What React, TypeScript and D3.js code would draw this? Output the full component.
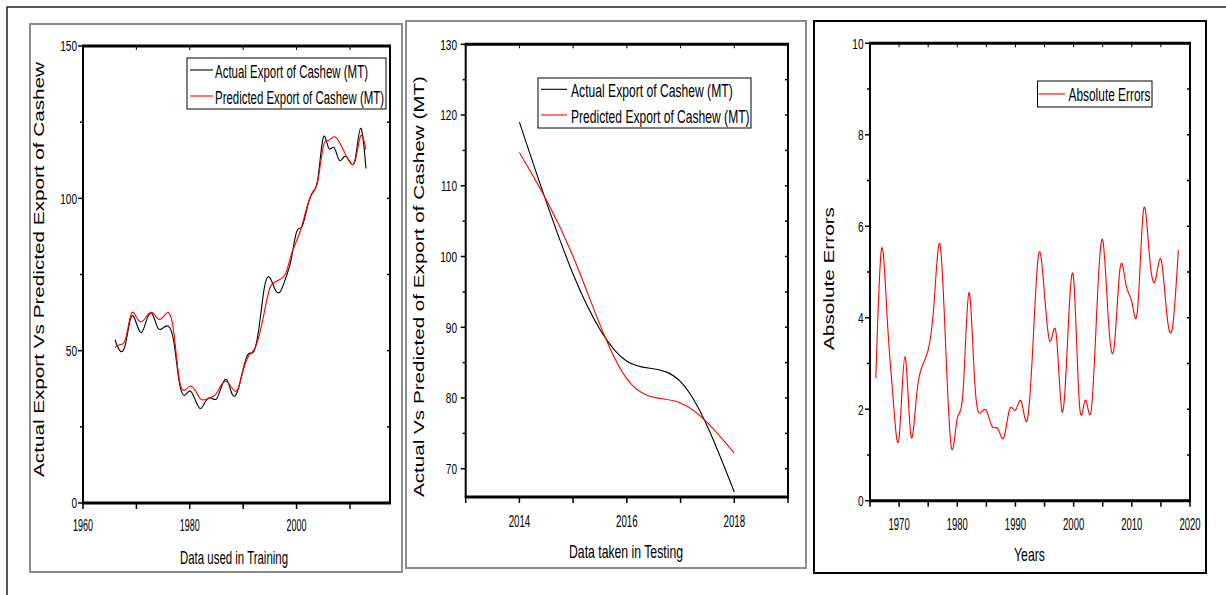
import * as d3 from "d3";

// ---- data ----
const trainYears = d3.range(1966, 2014);
const trainActual = [
  53.5, 49.8, 52.5, 61, 59, 56, 60.5, 62, 57.5, 57.5,
  58, 53, 40, 35.3, 36.8, 34, 31, 33.5, 34.5, 34.2,
  38.5, 40.3, 35.5, 37, 44, 49, 49.7, 58, 71, 74,
  70, 69.5, 74, 80, 89, 90.7, 97, 102, 106.5, 120,
  116.5, 116.7, 112.5, 113.8, 112, 113, 123, 109.8,
];
const trainPredicted = [
  51, 52, 54, 62, 61, 59.5, 61.5, 62.5, 60.5, 61,
  62.5, 56, 41, 37, 38.3, 37, 34.2, 34, 34.6, 36,
  39, 39.8, 37.5, 37.3, 43.5, 48.2, 50.2, 55, 63, 70.5,
  72.5, 73.5, 75.5, 81.5, 86, 91, 97.5, 101.8, 105.8, 117,
  119, 120.2, 118.5, 115, 111.8, 112.5, 120.5, 116,
];

const testYears = [2014, 2015, 2016, 2017, 2018];
const testActual = [119, 97.5, 85.2, 82.3, 66.7];
const testPredicted = [114.7, 100, 82.7, 79.3, 72.2];

const errorYears = d3.range(1966, 2019);
const absErrors = [
  2.68, 5.52, 3.9, 2.2, 1.38, 3.15, 1.45, 2.3, 2.95, 3.3,
  4.3, 5.62, 3.4, 1.15, 1.8, 2.4, 4.55, 2.6, 1.92, 1.97,
  1.62, 1.57, 1.38, 2.0, 1.98, 2.17, 1.75, 3.4, 5.4, 4.5,
  3.48, 3.65, 1.95, 3.6, 4.85, 2.1, 2.2, 1.95, 4.2, 5.7,
  3.9, 3.4, 5.1, 4.72, 4.35, 4.2, 6.35, 5.4, 4.8, 5.28,
  4.1, 3.8, 5.48,
];

const trainXLabels = [1960, 1980, 2000];
const trainXTicks = [1960, 1970, 1980, 1990, 2000, 2010];
const trainYLabels = [0, 50, 100, 150];
const trainYMinor = [25, 75, 125];

const testXLabels = [2014, 2016, 2018];
const testXTicks = [2013, 2014, 2015, 2016, 2017, 2018, 2019];
const testYLabels = [70, 80, 90, 100, 110, 120, 130];
const testYMinor = [75, 85, 95, 105, 115, 125];

const errXLabels = [1970, 1980, 1990, 2000, 2010, 2020];
const errXTicks = [1965, 1970, 1975, 1980, 1985, 1990, 1995, 2000, 2005, 2010, 2015, 2020];
const errYLabels = [0, 2, 4, 6, 8, 10];
const errYMinor = [1, 3, 5, 7, 9];

const FONT = "'Liberation Sans', Arial, sans-serif";

type Series = { xs: number[]; ys: number[]; color: string };
type LegendRow = { label: string; color: string; ly: number; by: number; tw: number };

function Plot(p: any) {
  const { box, xDomain, yDomain, xTicks, xLabels, yLabels, yMinor, series, legend,
    xTitle, yTitle, xLabelBase, xDigit, yRight } = p;
  const x = d3.scaleLinear().domain(xDomain).range([box.l, box.r]);
  const y = d3.scaleLinear().domain(yDomain).range([box.b, box.t]);
  const line = d3.line<[number, number]>()
    .x(d => x(d[0]))
    .y(d => y(d[1]))
    .curve(d3.curveNatural);
  const xs = xDigit / (0.556 * 16.5);
  const ys = 5.6 / (0.556 * 15);

  return (
    <g fontFamily={FONT}>
      {series.map((s: Series, i: number) => (
        <path key={i} d={line(s.xs.map((v, j) => [v, s.ys[j]] as [number, number])) || ""}
          fill="none" stroke={s.color} strokeWidth={1.1} />
      ))}

      {/* frame */}
      <line x1={box.l - 1} x2={box.r + 1} y1={box.t} y2={box.t} stroke="#000" strokeWidth={3} />
      <line x1={box.l - 1} x2={box.r + 1} y1={box.b} y2={box.b} stroke="#000" strokeWidth={3} />
      <line x1={box.l} x2={box.l} y1={box.t} y2={box.b} stroke="#000" strokeWidth={2} />
      <line x1={box.r} x2={box.r} y1={box.t} y2={box.b} stroke="#000" strokeWidth={2} />

      {/* x ticks */}
      {xTicks.map((v: number) => (
        <g key={"xt" + v}>
          <line x1={x(v)} x2={x(v)} y1={box.b} y2={box.b + 6} stroke="#000" strokeWidth={1.5} />
          <line x1={x(v)} x2={x(v)} y1={box.t} y2={box.t + 4} stroke="#000" strokeWidth={1} />
        </g>
      ))}
      {xLabels.map((v: number) => (
        <text key={"xl" + v} transform={`translate(${x(v)},${xLabelBase}) scale(${xs},1)`}
          textAnchor="middle" fontSize={16.5} fill="#000">{v}</text>
      ))}

      {/* y ticks */}
      {yLabels.map((v: number) => (
        <g key={"yt" + v}>
          <line x1={box.l - 5} x2={box.l} y1={y(v)} y2={y(v)} stroke="#000" strokeWidth={1.5} />
          <line x1={box.r - 3} x2={box.r + 1} y1={y(v)} y2={y(v)} stroke="#000" strokeWidth={1.5} />
          <text transform={`translate(${yRight},${y(v) + 5.3}) scale(${ys},1)`}
            textAnchor="end" fontSize={15} fill="#000">{v}</text>
        </g>
      ))}
      {yMinor.map((v: number) => (
        <g key={"ym" + v}>
          <line x1={box.l - 3} x2={box.l} y1={y(v)} y2={y(v)} stroke="#000" strokeWidth={1.5} />
          <line x1={box.r - 3} x2={box.r + 1} y1={y(v)} y2={y(v)} stroke="#000" strokeWidth={1.5} />
        </g>
      ))}

      {/* legend */}
      <rect x={legend.x} y={legend.y} width={legend.w} height={legend.h}
        fill="#fff" stroke="#000" strokeWidth={1} />
      {legend.rows.map((r: LegendRow) => (
        <g key={r.label}>
          <line x1={legend.lx0} x2={legend.lx1} y1={r.ly} y2={r.ly} stroke={r.color} strokeWidth={1.1} />
          <text x={legend.tx} y={r.by} fontSize={18} textLength={r.tw}
            lengthAdjust="spacingAndGlyphs" fill="#000">{r.label}</text>
        </g>
      ))}

      {/* titles */}
      <text x={xTitle.x} y={xTitle.y} fontSize={18.5} textLength={xTitle.w}
        lengthAdjust="spacingAndGlyphs" fill="#000">{xTitle.text}</text>
      <text transform={`translate(${yTitle.x},${yTitle.c + yTitle.len / 2}) rotate(-90)`}
        fontSize={15} textLength={yTitle.len} lengthAdjust="spacingAndGlyphs" fill="#000">{yTitle.text}</text>
    </g>
  );
}

export default function App() {
  return (
    <svg width={1226} height={595} style={{ position: "absolute", left: 0, top: 0, background: "#fff" }}>
      <rect x={0} y={0} width={1226} height={595} fill="#fff" />
      <rect x={7} y={7} width={1240} height={620} fill="none" stroke="#222" strokeWidth={1.5} />

      <rect x={30} y={24} width={372} height={548} fill="none" stroke="#8c8c8c" strokeWidth={2} />
      <rect x={406} y={21} width={400} height={547} fill="none" stroke="#8c8c8c" strokeWidth={2} />
      <rect x={814} y={21} width={392} height={552} fill="none" stroke="#000" strokeWidth={2} />

      <Plot
        box={{ l: 83, r: 390, t: 46, b: 503 }}
        xDomain={[1960, 2017.5]} yDomain={[0, 150]}
        xTicks={trainXTicks} xLabels={trainXLabels}
        yLabels={trainYLabels} yMinor={trainYMinor}
        xLabelBase={531} xDigit={5.0} yRight={77}
        series={[
          { xs: trainYears, ys: trainActual, color: "#000" },
          { xs: trainYears, ys: trainPredicted, color: "#ff0000" },
        ]}
        legend={{
          x: 187, y: 58, w: 199, h: 51, lx0: 190, lx1: 213, tx: 215,
          rows: [
            { label: "Actual Export of Cashew (MT)", color: "#000", ly: 70, by: 78, tw: 153 },
            { label: "Predicted Export of Cashew (MT)", color: "#ff0000", ly: 96, by: 104, tw: 169 },
          ],
        }}
        xTitle={{ text: "Data used in Training", x: 180, y: 564, w: 108 }}
        yTitle={{ text: "Actual Export Vs Predicted Export of Cashew", x: 43.5, c: 269.5, len: 415 }}
      />

      <Plot
        box={{ l: 465.7, r: 788, t: 44.3, b: 497 }}
        xDomain={[2013, 2019]} yDomain={[66, 130]}
        xTicks={testXTicks} xLabels={testXLabels}
        yLabels={testYLabels} yMinor={testYMinor}
        xLabelBase={526.5} xDigit={5.4} yRight={457}
        series={[
          { xs: testYears, ys: testActual, color: "#000" },
          { xs: testYears, ys: testPredicted, color: "#ff0000" },
        ]}
        legend={{
          x: 538, y: 78, w: 213, h: 50, lx0: 541, lx1: 567, tx: 571,
          rows: [
            { label: "Actual Export of Cashew (MT)", color: "#000", ly: 89.3, by: 97, tw: 161.7 },
            { label: "Predicted Export of Cashew (MT)", color: "#ff0000", ly: 115, by: 122.7, tw: 178.6 },
          ],
        }}
        xTitle={{ text: "Data taken in Testing", x: 569, y: 558, w: 114 }}
        yTitle={{ text: "Actual Vs Predicted of Export of Cashew (MT)", x: 423.5, c: 286.5, len: 421 }}
      />

      <Plot
        box={{ l: 870, r: 1190, t: 43.3, b: 500.7 }}
        xDomain={[1965, 2020]} yDomain={[0, 10]}
        xTicks={errXTicks} xLabels={errXLabels}
        yLabels={errYLabels} yMinor={errYMinor}
        xLabelBase={529.5} xDigit={5.3} yRight={863.5}
        series={[{ xs: errorYears, ys: absErrors, color: "#ff0000" }]}
        legend={{
          x: 1037.5, y: 81, w: 114.5, h: 26, lx0: 1038.5, lx1: 1065, tx: 1068.5,
          rows: [{ label: "Absolute Errors", color: "#ff0000", ly: 94, by: 100.5, tw: 82 }],
        }}
        xTitle={{ text: "Years", x: 1014, y: 561, w: 31 }}
        yTitle={{ text: "Absolute Errors", x: 834, c: 278.5, len: 143 }}
      />
    </svg>
  );
}
